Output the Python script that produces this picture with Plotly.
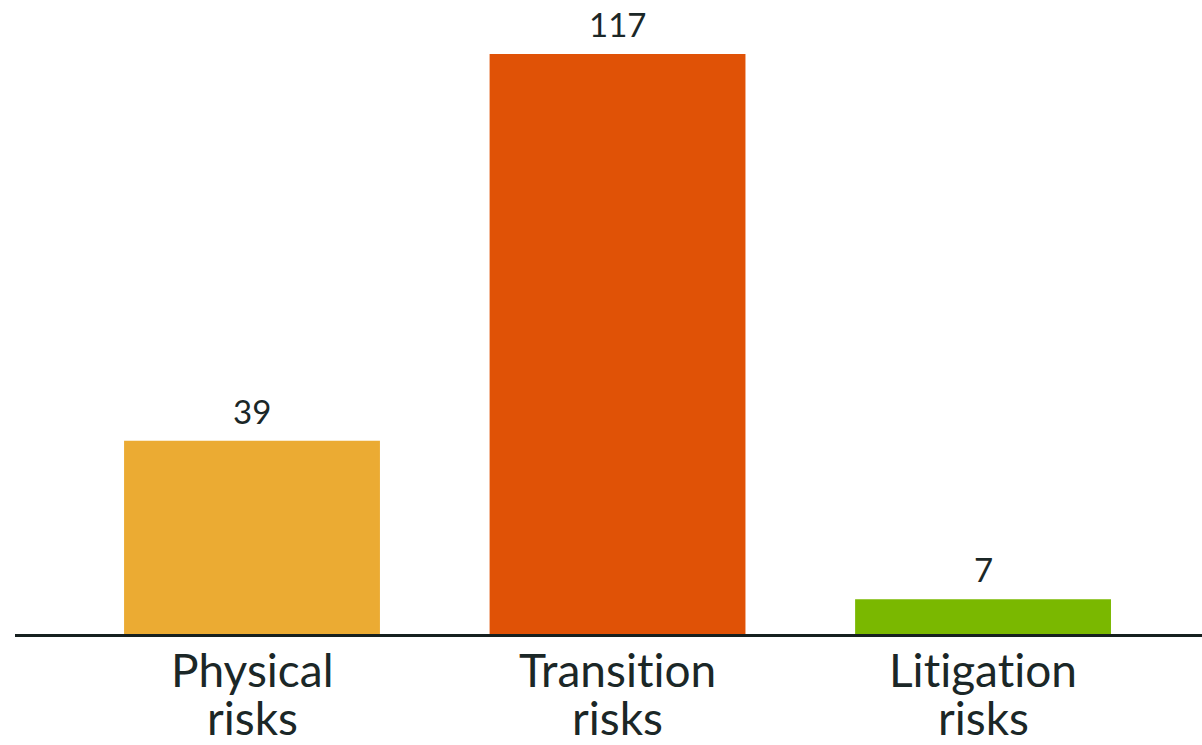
import plotly.graph_objects as go

categories = ["Physical risks", "Transition risks", "Litigation risks"]
label_line1 = ["Physical", "Transition", "Litigation"]
label_line2 = ["risks", "risks", "risks"]
values = [39, 117, 7]
colors = ["#EBAB33", "#E05206", "#7AB800"]

TEXT = "#1b2727"
FONT = "Lato"
NOLIG = '<span style="font-variant-ligatures:none">%s</span>'

fig = go.Figure()
fig.add_trace(go.Bar(
    x=categories, y=values, marker=dict(color=colors, line=dict(width=0)),
    width=0.70, hoverinfo="skip",
))

ann = []
for c, v in zip(categories, values):
    ann.append(dict(x=c, y=v, xref="x", yref="y", text=str(v), showarrow=False,
                    yanchor="bottom", xanchor="center", yshift=8,
                    font=dict(family=FONT, size=33, color=TEXT)))
for c, l1, l2 in zip(categories, label_line1, label_line2):
    ann.append(dict(x=c, y=0, xref="x", yref="y", text=NOLIG % l1, showarrow=False,
                    yanchor="top", xanchor="center", yshift=-6,
                    font=dict(family=FONT, size=46, color=TEXT)))
    ann.append(dict(x=c, y=0, xref="x", yref="y", text=NOLIG % l2, showarrow=False,
                    yanchor="top", xanchor="center", yshift=-54,
                    font=dict(family=FONT, size=46, color=TEXT)))

fig.update_layout(
    width=1202, height=745,
    margin=dict(l=15, r=0, t=0, b=111, pad=0),
    paper_bgcolor="white", plot_bgcolor="white",
    showlegend=False,
    annotations=ann,
    xaxis=dict(type="category", range=[-0.6484, 2.599], showticklabels=False,
               showgrid=False, zeroline=False, ticks="",
               showline=True, linecolor="#16201f", linewidth=3),
    yaxis=dict(range=[0, 127.9], visible=False, showgrid=False, zeroline=False),
)

fig.write_html("out.html")
